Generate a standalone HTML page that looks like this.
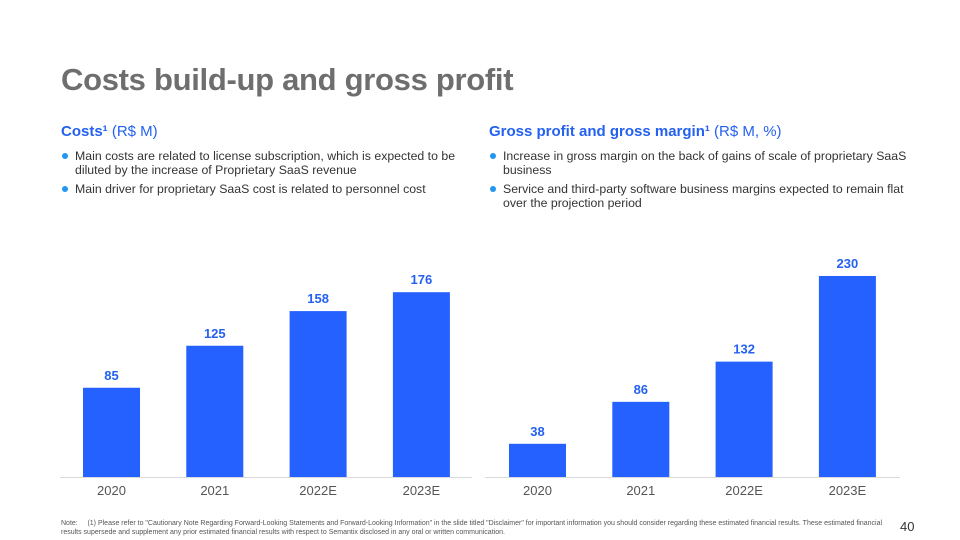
<!DOCTYPE html>
<html><head><meta charset="utf-8"><style>
body{margin:0;width:960px;height:540px;background:#fff;font-family:"Liberation Sans",sans-serif;position:relative;overflow:hidden}
.abs{position:absolute}
h1{position:absolute;left:61px;top:62px;margin:0;font-size:31px;font-weight:bold;color:#6e6e6e;letter-spacing:-0.3px}
.sub{font-size:15px;color:#2461f0}
.sub b{font-weight:bold}
ul{margin:0;padding:0;list-style:none;font-size:12.3px;color:#333;line-height:14px}
li{position:relative;padding-left:14px;margin-bottom:5px}
li:before{content:"";position:absolute;left:1px;top:4px;width:6px;height:6px;border-radius:50%;background:#2196f3}
.note{font-size:7px;color:#555;line-height:9px}
</style></head><body>
<h1>Costs build-up and gross profit</h1>
<div class="abs sub" style="left:61px;top:123px"><b>Costs¹</b> (R$ M)</div>
<div class="abs sub" style="left:489px;top:123px"><b>Gross profit and gross margin¹</b> (R$ M, %)</div>
<ul class="abs" style="left:61px;top:149px;width:410px">
<li>Main costs are related to license subscription, which is expected to be diluted by the increase of Proprietary SaaS revenue</li>
<li>Main driver for proprietary SaaS cost is related to personnel cost</li></ul>
<ul class="abs" style="left:489px;top:149px;width:420px">
<li>Increase in gross margin on the back of gains of scale of proprietary SaaS business</li>
<li>Service and third-party software business margins expected to remain flat over the projection period</li></ul>
<svg id="chart" class="abs" style="left:0;top:0" width="960" height="540"></svg>
<div class="abs note" style="left:61px;top:519px;width:830px">Note: &nbsp;&nbsp;&nbsp;&nbsp;(1) Please refer to "Cautionary Note Regarding Forward-Looking Statements and Forward-Looking Information" in the slide titled "Disclaimer" for important information you should consider regarding these estimated financial results. These estimated financial results supersede and supplement any prior estimated financial results with respect to Semantix disclosed in any oral or written communication.</div>
<div class="abs" style="left:900px;top:519px;font-size:13px;color:#333">40</div>
<script>
const categories=["2020","2021","2022E","2023E"];
const costValues=[85,125,158,176];
const grossProfitValues=[38,86,132,230];
const svg=document.getElementById('chart');
const NS="http://www.w3.org/2000/svg";
const baseY=477;
function draw(vals,x0,axisX1,axisX2,scale,name){
  const ax=document.createElementNS(NS,'line');
  ax.setAttribute('x1',axisX1);ax.setAttribute('x2',axisX2);ax.setAttribute('y1',baseY+0.5);ax.setAttribute('y2',baseY+0.5);
  ax.setAttribute('stroke','#d9d9d9');ax.setAttribute('stroke-width','1');
  
  
  svg.appendChild(ax);
  vals.forEach((v,i)=>{
    const x=x0+i*103.3, w=57, h=v*scale;
    const r=document.createElementNS(NS,'rect');
    r.setAttribute('x',x);r.setAttribute('y',baseY-h);r.setAttribute('width',w);r.setAttribute('height',h);r.setAttribute('fill','#2461ff');
    
    
    svg.appendChild(r);
    const t=document.createElementNS(NS,'text');
    t.setAttribute('x',x+w/2);t.setAttribute('y',baseY-h-8);t.setAttribute('text-anchor','middle');
    t.setAttribute('font-size','13');t.setAttribute('font-weight','bold');t.setAttribute('fill','#2461f0');
    t.setAttribute('font-family','Liberation Sans, sans-serif');
    t.textContent=v;
    
    
    svg.appendChild(t);
    const c=document.createElementNS(NS,'text');
    c.setAttribute('x',x+w/2);c.setAttribute('y',495);c.setAttribute('text-anchor','middle');
    c.setAttribute('font-size','13');c.setAttribute('fill','#555');
    c.setAttribute('font-family','Liberation Sans, sans-serif');
    c.textContent=categories[i];
    
    
    svg.appendChild(c);
  });
}
draw(costValues,83,60,472,1.05,'costs');
draw(grossProfitValues,509,485,900,0.874,'gross-profit');
</script>
</body></html>
